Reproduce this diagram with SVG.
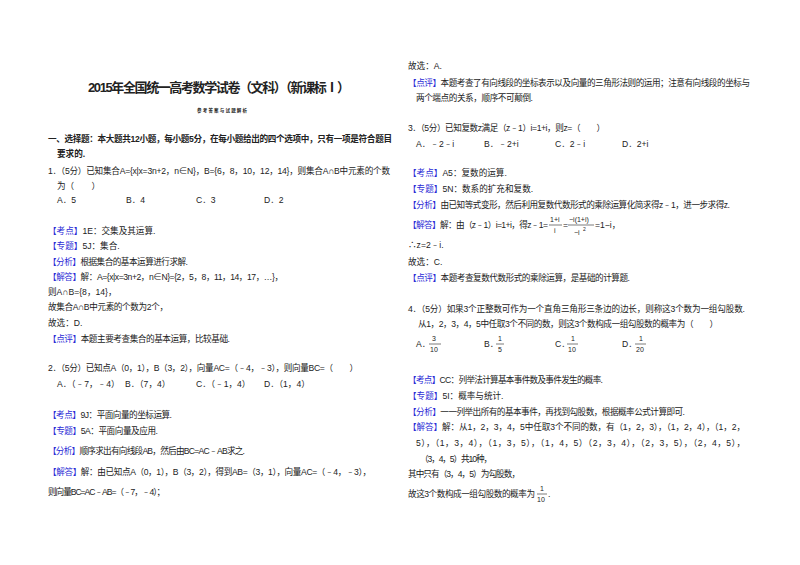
<svg xmlns="http://www.w3.org/2000/svg" width="800" height="565" viewBox="0 0 800 565">
<style>
text{font-family:"Liberation Sans","Noto Sans CJK SC",sans-serif;font-size:8.6px;fill:#222}
.b{font-weight:bold}
.k{fill:#2b2bd6}
.t{font-size:13px;font-weight:bold}
.s{font-size:4.5px;font-weight:bold}
.sm{font-size:7px}
line.v{stroke:#222;stroke-width:0.6}
</style>
<rect width="800" height="565" fill="#fff"/>
<g id="left">
<text class="t" x="88" y="92" textLength="262">2015年全国统一高考数学试卷（文科）（新课标Ⅰ）</text>
<text class="s" x="197" y="112" textLength="50">参考答案与试题解析</text>
<text class="b" x="48" y="142" textLength="344">一、选择题：本大题共12小题，每小题5分，在每小题给出的四个选项中，只有一项是符合题目</text>
<text class="b" x="57" y="157">要求的.</text>
<text x="48" y="174" textLength="342">1．（5分）已知集合A={x|x=3n+2，n∈N}，B={6，8，10，12，14}，则集合A∩B中元素的个数</text>
<text x="57" y="189">为（　　）</text>
<text x="57" y="203">A．5</text><text x="126" y="203">B．4</text><text x="196" y="203">C．3</text><text x="264" y="203">D．2</text>
<text x="48" y="234"><tspan class="k">【考点】</tspan>1E：交集及其运算.</text>
<text x="48" y="249"><tspan class="k">【专题】</tspan>5J：集合.</text>
<text x="48" y="265" textLength="140"><tspan class="k">【分析】</tspan>根据集合的基本运算进行求解.</text>
<text x="48" y="280" textLength="235"><tspan class="k">【解答】</tspan>解：A={x|x=3n+2，n∈N}={2，5，8，11，14，17，…}，</text>
<text x="48" y="295">则A∩B={8，14}，</text>
<text x="48" y="310" textLength="120">故集合A∩B中元素的个数为2个，</text>
<text x="48" y="326">故选：D.</text>
<text x="48" y="342" textLength="182"><tspan class="k">【点评】</tspan>本题主要考查集合的基本运算，比较基础.</text>
<text x="48" y="371" textLength="310">2．（5分）已知点A（0，1），B（3，2），向量AC=（﹣4，﹣3），则向量BC=（　　）</text>
<text x="57" y="387">A．（﹣7，﹣4）</text><text x="125" y="387">B．（7，4）</text><text x="196" y="387">C．（﹣1，4）</text><text x="264" y="387">D．（1，4）</text>
<text x="48" y="418" textLength="124"><tspan class="k">【考点】</tspan>9J：平面向量的坐标运算.</text>
<text x="48" y="434" textLength="110"><tspan class="k">【专题】</tspan>5A：平面向量及应用.</text>
<text x="48" y="454" textLength="197"><tspan class="k">【分析】</tspan>顺序求出有向线段AB，然后由BC=AC﹣AB求之.</text>
<text x="48" y="475" textLength="323"><tspan class="k">【解答】</tspan>解：由已知点A（0，1），B（3，2），得到AB=（3，1），向量AC=（﹣4，﹣3），</text>
<text x="48" y="495" textLength="117">则向量BC=AC﹣AB=（﹣7，﹣4）；</text>
</g>
<g id="right">
<text x="408" y="69">故选：A.</text>
<text x="408" y="86" textLength="342"><tspan class="k">【点评】</tspan>本题考查了有向线段的坐标表示以及向量的三角形法则的运用；注意有向线段的坐标与</text>
<text x="416" y="101" textLength="117">两个端点的关系，顺序不可颠倒.</text>
<text x="408" y="131" textLength="197">3．（5分）已知复数z满足（z﹣1）i=1+i，则z=（　　）</text>
<text x="416" y="147">A．﹣2﹣i</text><text x="484" y="147">B．﹣2+i</text><text x="555" y="147">C．2﹣i</text><text x="622" y="147">D．2+i</text>
<text x="408" y="176"><tspan class="k">【考点】</tspan>A5：复数的运算.</text>
<text x="408" y="192"><tspan class="k">【专题】</tspan>5N：数系的扩充和复数.</text>
<text x="408" y="208" textLength="322"><tspan class="k">【分析】</tspan>由已知等式变形，然后利用复数代数形式的乘除运算化简求得z﹣1，进一步求得z.</text>
<text x="408" y="228" textLength="140"><tspan class="k">【解答】</tspan>解：由（z﹣1）i=1+i，得z﹣1=</text>
<text class="sm" x="550" y="222">1+i</text><line class="v" x1="549" y1="225" x2="562" y2="225"/><text class="sm" x="554" y="233">i</text>
<text x="563" y="228">=</text>
<text class="sm" x="569" y="222">−i(1+i)</text><line class="v" x1="568" y1="225" x2="594" y2="225"/><text class="sm" x="574" y="235">−i</text><text class="sm" x="583" y="231" style="font-size:5px">2</text>
<text x="595" y="228">=1−i，</text>
<text x="408" y="248">∴z=2﹣i.</text>
<text x="408" y="265">故选：C.</text>
<text x="408" y="281" textLength="222"><tspan class="k">【点评】</tspan>本题考查复数代数形式的乘除运算，是基础的计算题.</text>
<text x="408" y="312" textLength="337">4．（5分）如果3个正整数可作为一个直角三角形三条边的边长，则称这3个数为一组勾股数.</text>
<text x="418" y="327" textLength="300">从1，2，3，4，5中任取3个不同的数，则这3个数构成一组勾股数的概率为（　　）</text>
<text x="416" y="347">A．</text><text class="sm" x="432" y="341">3</text><line class="v" x1="429" y1="344" x2="441" y2="344"/><text class="sm" x="430" y="352">10</text>
<text x="484" y="347">B．</text><text class="sm" x="498" y="341">1</text><line class="v" x1="496" y1="344" x2="504" y2="344"/><text class="sm" x="498" y="352">5</text>
<text x="555" y="347">C．</text><text class="sm" x="571" y="341">1</text><line class="v" x1="567" y1="344" x2="578" y2="344"/><text class="sm" x="568" y="352">10</text>
<text x="622" y="347">D．</text><text class="sm" x="639" y="341">1</text><line class="v" x1="635" y1="344" x2="646" y2="344"/><text class="sm" x="636" y="352">20</text>
<text x="408" y="383" textLength="195"><tspan class="k">【考点】</tspan>CC：列举法计算基本事件数及事件发生的概率.</text>
<text x="408" y="399"><tspan class="k">【专题】</tspan>5I：概率与统计.</text>
<text x="408" y="415" textLength="277"><tspan class="k">【分析】</tspan>一一列举出所有的基本事件，再找到勾股数，根据概率公式计算即可.</text>
<text x="408" y="430" textLength="337"><tspan class="k">【解答】</tspan>解：从1，2，3，4，5中任取3个不同的数，有（1，2，3），（1，2，4），（1，2，</text>
<text x="416" y="446" textLength="329">5），（1，3，4），（1，3，5），（1，4，5）（2，3，4），（2，3，5），（2，4，5），</text>
<text x="420" y="462" textLength="72">（3，4，5）共10种，</text>
<text x="408" y="477" textLength="112">其中只有（3，4，5）为勾股数，</text>
<text x="408" y="497" textLength="127">故这3个数构成一组勾股数的概率为</text>
<text class="sm" x="540" y="491">1</text><line class="v" x1="537" y1="494" x2="547" y2="494"/><text class="sm" x="537" y="502">10</text><text x="548" y="497">.</text>
</g>
</svg>
